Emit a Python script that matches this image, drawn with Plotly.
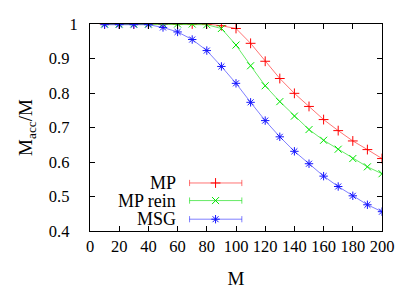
import plotly.graph_objects as go

M = [10, 20, 30, 40, 50, 60, 70, 80, 90, 100, 110, 120, 130, 140, 150, 160, 170, 180, 190, 200]
mp = [1.0, 1.0, 1.0, 1.0, 1.0, 1.0, 1.0, 1.0, 0.995, 0.987, 0.944, 0.892, 0.842, 0.799, 0.761,
      0.723, 0.691, 0.661, 0.636, 0.610]
mp_rein = [1.0, 1.0, 1.0, 1.0, 1.0, 1.0, 1.0, 0.998, 0.987, 0.939, 0.879, 0.821, 0.775, 0.733,
           0.694, 0.663, 0.637, 0.610, 0.586, 0.566]
msg = [0.998, 0.998, 0.998, 0.998, 0.990, 0.977, 0.955, 0.923, 0.877, 0.828, 0.773, 0.720,
       0.673, 0.631, 0.595, 0.559, 0.529, 0.502, 0.476, 0.456]

x_ticks = [0, 20, 40, 60, 80, 100, 120, 140, 160, 180, 200]
y_ticks = [0.4, 0.5, 0.6, 0.7, 0.8, 0.9, 1.0]
y_ticktext = ["0.4", "0.5", "0.6", "0.7", "0.8", "0.9", "1"]

names = ["MP", "MP rein", "MSG"]
series = [mp, mp_rein, msg]
line_colors = ["rgba(255,0,0,0.55)", "rgba(0,220,0,0.6)", "rgba(0,0,255,0.5)"]
marker_colors = ["rgb(255,0,0)", "rgb(0,230,0)", "rgb(20,20,255)"]
symbols = ["cross-thin-open", "x-thin-open", "asterisk-open"]
sizes = [7, 7, 7]

FONT = "Liberation Serif"
TICK_FS = 16.5
TITLE_FS = 19
KEY_FS = 18

fig = go.Figure()
for name, ys, lc, mc, sym, sz in zip(names, series, line_colors, marker_colors, symbols, sizes):
    fig.add_trace(go.Scatter(
        x=M, y=ys, mode="lines+markers", name=name, showlegend=False,
        line=dict(color=lc, width=1),
        marker=dict(symbol=sym, size=sz, color=mc, line=dict(color=mc, width=1)),
    ))

# custom gnuplot-style key (text on left, sample on right)
key_y = [0.232, 0.147, 0.057]
x0, x1, xm, xt = 0.341, 0.52, 0.43, 0.30
for name, ky, lc, mc, sym, sz in zip(names, key_y, line_colors, marker_colors, symbols, sizes):
    fig.add_annotation(x=xt, y=ky, xref="paper", yref="paper", text=name, showarrow=False,
                       xanchor="right", yanchor="middle", font=dict(family=FONT, size=KEY_FS, color="black"))
    fig.add_shape(type="line", xref="paper", yref="paper", x0=x0, x1=x1, y0=ky, y1=ky,
                  line=dict(color=lc, width=1))
    for xc in (x0, x1):
        fig.add_shape(type="line", xref="paper", yref="paper", x0=xc, x1=xc, y0=ky - 0.015, y1=ky + 0.015,
                      line=dict(color=lc, width=1))
    fig.add_trace(go.Scatter(
        x=[xm], y=[ky], xaxis="x2", yaxis="y2", mode="markers", showlegend=False, hoverinfo="skip",
        marker=dict(symbol=sym, size=sz, color=mc, line=dict(color=mc, width=1)),
    ))

axis_common = dict(showgrid=False, zeroline=False, showline=True, linecolor="black", linewidth=1,
                   mirror="allticks", ticks="inside", ticklen=5, tickcolor="black", automargin=False,
                   tickfont=dict(family=FONT, size=TICK_FS, color="black"))
# gnuplot placed "1" further right than the other y labels; pad the others with no-break spaces
y_labels = [t if t == "1" else t + "\u00a0\u00a0" for t in y_ticktext]
fig.update_layout(
    width=415, height=291,
    margin=dict(l=90, r=33, t=24, b=60),
    paper_bgcolor="white", plot_bgcolor="white",
    xaxis=dict(range=[0, 200], tickvals=x_ticks, tickangle=0,
               title=dict(text="M", font=dict(family=FONT, size=TITLE_FS, color="black"), standoff=16),
               **axis_common),
    yaxis=dict(range=[0.4, 1.0], tickvals=y_ticks, ticktext=y_labels, ticklabelstandoff=8,
               title=dict(text="M<sub>acc</sub>/M", font=dict(family=FONT, size=TITLE_FS, color="black"), standoff=11),
               **axis_common),
    xaxis2=dict(range=[0, 1], visible=False, overlaying="x"),
    yaxis2=dict(range=[0, 1], visible=False, overlaying="y"),
)
fig.write_html("out.html", config={"displayModeBar": False},
               post_script="document.body.style.margin='0px';")
